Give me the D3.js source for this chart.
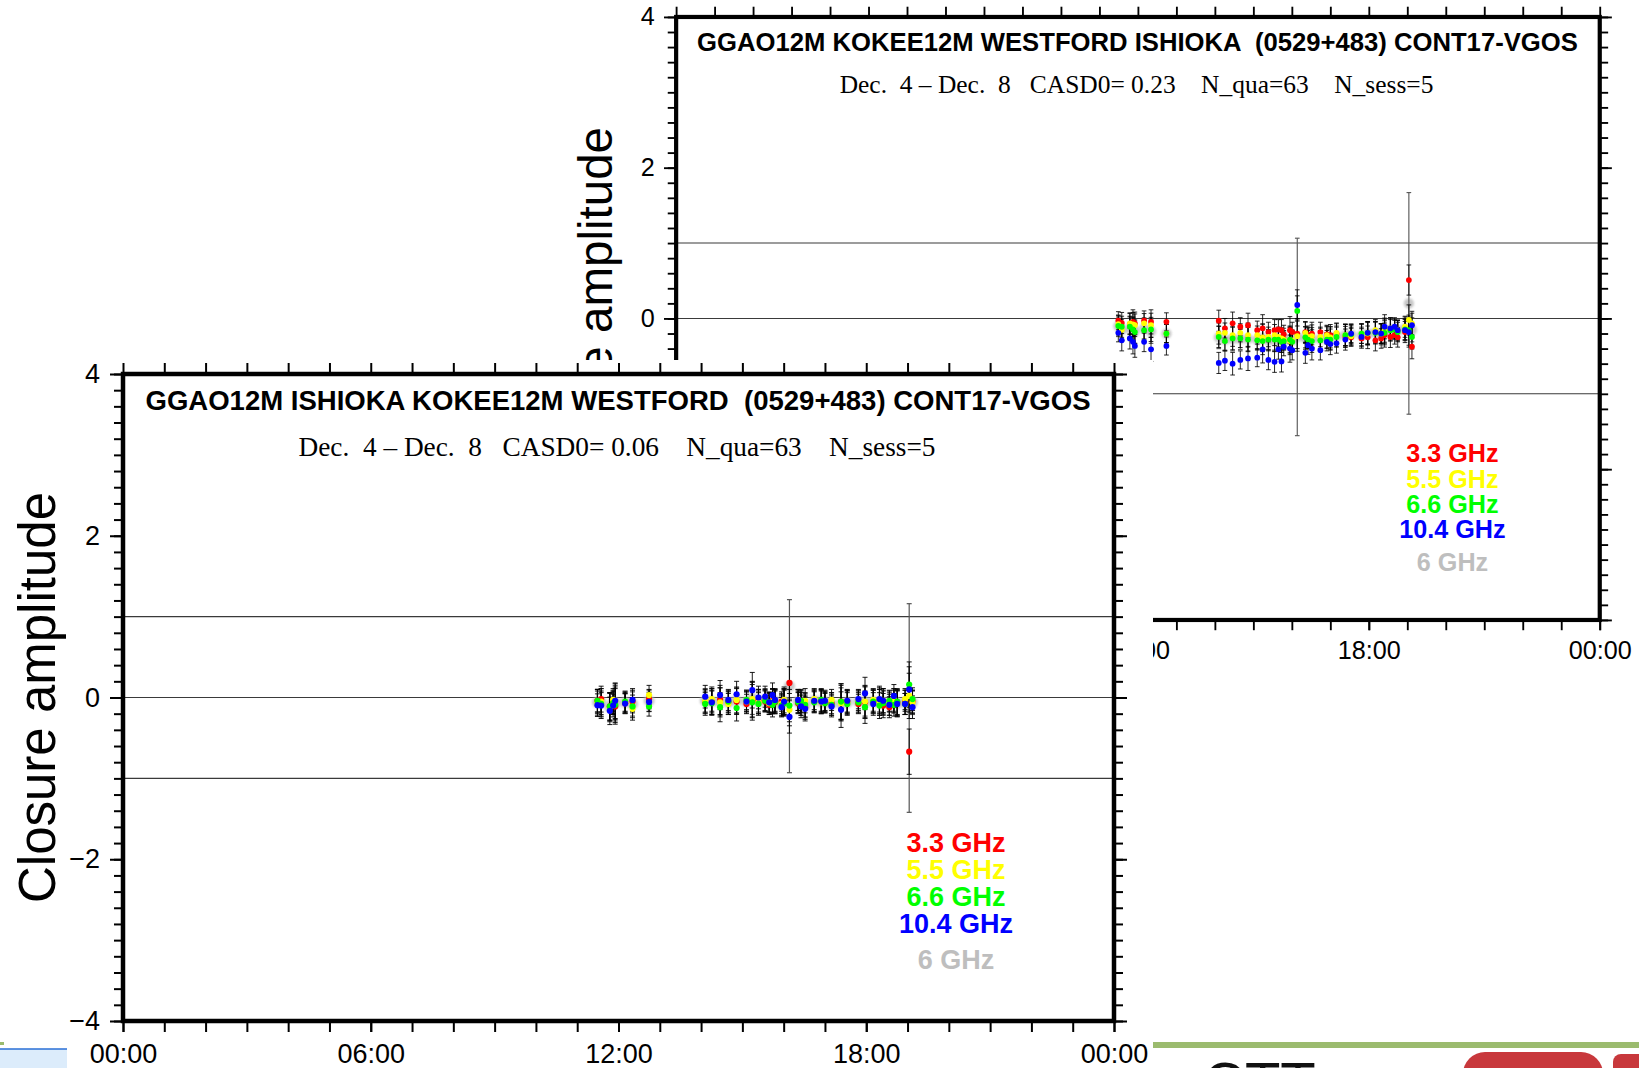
<!DOCTYPE html>
<html><head><meta charset="utf-8">
<script src="https://cdn.jsdelivr.net/npm/d3@7"></script>
<style>body{margin:0;background:#fff}svg{display:block}</style>
</head><body><svg id="c" width="1639" height="1068"></svg>
<script>
// ---------- data ----------
const times = [11.49, 11.58, 11.79, 11.87, 11.92, 12.16, 12.34, 12.74,
 14.10, 14.26, 14.46, 14.66, 14.86, 15.10, 15.24, 15.39, 15.55, 15.65,
 15.73, 15.79, 15.95, 16.01, 16.14, 16.35, 16.42, 16.52, 16.74, 16.91,
 17.00, 17.16, 17.39, 17.54, 17.81, 17.97, 18.17, 18.32, 18.41, 18.56,
 18.67, 18.75, 18.94, 19.04, 19.12];

const bandNames = ["3.3 GHz", "5.5 GHz", "6.6 GHz", "10.4 GHz"];
const bandColors = ["#ff0000", "#ffff00", "#00ff00", "#0000ff"];
const combinedName = "6 GHz";
const combinedColor = "#bebebe";

const xTickLabelHours = [0, 6, 12, 18, 24];
const xTickLabels = ["00:00", "06:00", "12:00", "18:00", "00:00"];
const yTickLabelValues = [-4, -2, 0, 2, 4];
const refLines = [-1, 0, 1];

// front chart: GGAO12M ISHIOKA KOKEE12M WESTFORD
const frontTitle = "GGAO12M ISHIOKA KOKEE12M WESTFORD  (0529+483) CONT17-VGOS";
const frontSub = "Dec.  4 \u2013 Dec.  8   CASD0= 0.06    N_qua=63    N_sess=5";
const frontR = [-0.04, -0.02, -0.11, -0.06, -0.11, -0.07, -0.05, -0.02,
 -0.06, -0.04, -0.03, -0.06, -0.05, -0.08, -0.03, -0.04, -0.05, -0.09,
 -0.04, -0.06, -0.05, -0.06, 0.18, -0.07, -0.05, -0.12, -0.05, -0.04,
 -0.06, -0.07, -0.05, -0.05, -0.08, -0.06, -0.05, -0.04, -0.10, -0.12,
 -0.05, -0.06, -0.04, -0.67, -0.05];
const frontY = [-0.06, -0.05, -0.12, -0.03, -0.05, -0.06, -0.14, 0.03,
 -0.04, -0.02, -0.06, -0.08, -0.03, -0.05, -0.02, -0.06, -0.03, -0.07,
 -0.05, -0.04, -0.08, -0.03, -0.15, -0.03, -0.08, -0.04, -0.02, -0.06,
 -0.05, -0.03, -0.07, -0.06, -0.04, -0.05, -0.03, -0.06, -0.04, -0.05,
 -0.03, -0.07, -0.02, 0.02, -0.06];
const frontG = [-0.04, -0.08, -0.11, -0.07, -0.09, -0.05, -0.11, -0.11,
 -0.08, -0.07, -0.12, -0.05, -0.13, -0.03, -0.06, -0.08, -0.04, -0.06,
 -0.09, -0.05, -0.10, -0.07, -0.10, -0.06, -0.04, -0.09, -0.06, -0.03,
 -0.07, -0.09, -0.05, -0.08, -0.06, -0.12, -0.05, -0.10, -0.07, -0.04,
 -0.09, -0.05, -0.08, 0.16, -0.02];
const frontB = [-0.095, -0.10, -0.165, -0.10, -0.04, -0.075, -0.03, -0.055,
 0.01, -0.06, 0.03, -0.03, 0.04, -0.05, 0.09, 0.00, 0.01, -0.06,
 0.03, -0.03, -0.12, -0.05, -0.24, -0.03, -0.11, -0.14, -0.04, -0.05,
 -0.04, -0.11, -0.15, -0.04, -0.02, 0.05, -0.08, -0.02, -0.04, -0.09,
 0.02, -0.08, -0.08, 0.10, -0.12];
const frontGray = [-0.06, -0.06, -0.12, -0.06, -0.07, -0.06, -0.08, -0.04,
 -0.04, -0.05, -0.05, -0.06, -0.04, -0.05, -0.01, -0.05, -0.03, -0.07,
 -0.04, -0.05, -0.09, -0.05, 0.14, -0.05, -0.07, -0.10, -0.04, -0.05,
 -0.05, -0.08, -0.08, -0.06, -0.05, -0.05, -0.05, -0.06, -0.06, -0.08,
 -0.04, -0.07, -0.06, -0.13, -0.06];
const frontErr = [0.14, 0.16, 0.17, 0.14, 0.22, 0.12, 0.14, 0.12,
 0.14, 0.15, 0.18, 0.13, 0.16, 0.12, 0.22, 0.14, 0.13, 0.12,
 0.15, 0.14, 0.12, 0.16, 0.20, 0.13, 0.14, 0.15, 0.13, 0.14,
 0.12, 0.13, 0.22, 0.14, 0.12, 0.20, 0.14, 0.16, 0.15, 0.13,
 0.14, 0.16, 0.13, 0.28, 0.14];
const frontGrayErr = [0.16, 0.17, 0.18, 0.15, 0.22, 0.14, 0.15, 0.13,
 0.15, 0.16, 0.17, 0.15, 0.16, 0.14, 0.20, 0.15, 0.14, 0.14,
 0.15, 0.15, 0.14, 0.16, 1.07, 0.14, 0.15, 0.15, 0.14, 0.15,
 0.14, 0.14, 0.20, 0.15, 0.14, 0.18, 0.15, 0.16, 0.15, 0.14,
 0.15, 0.16, 0.15, 1.29, 0.15];

// back chart: GGAO12M KOKEE12M WESTFORD ISHIOKA
const backTitle = "GGAO12M KOKEE12M WESTFORD ISHIOKA  (0529+483) CONT17-VGOS";
const backSub = "Dec.  4 \u2013 Dec.  8   CASD0= 0.23    N_qua=63    N_sess=5";
const backR = [-0.03, -0.06, -0.075, -0.045, -0.065, -0.03, -0.045, -0.045,
 -0.03, -0.13, -0.065, -0.11, -0.09, -0.155, -0.13, -0.18, -0.155, -0.145,
 -0.155, -0.21, -0.155, -0.18, -0.20, -0.18, -0.22, -0.20, -0.18, -0.21,
 -0.22, -0.20, -0.245, -0.25, -0.265, -0.25, -0.29, -0.265, -0.22, -0.245,
 -0.22, -0.25, -0.18, 0.51, -0.375];
const backY = [-0.075, -0.15, -0.065, -0.08, -0.09, -0.065, -0.09, -0.20,
 -0.20, -0.19, -0.22, -0.19, -0.22, -0.22, -0.25, -0.245, -0.22, -0.245,
 -0.265, -0.28, -0.30, -0.29, -0.235, -0.19, -0.245, -0.235, -0.245, -0.22,
 -0.25, -0.19, -0.22, -0.235, -0.20, -0.20, -0.155, -0.20, -0.155, -0.13,
 -0.13, -0.155, -0.11, -0.02, -0.065];
const backG = [-0.10, -0.11, -0.11, -0.145, -0.18, -0.155, -0.145, -0.20,
 -0.245, -0.30, -0.265, -0.265, -0.28, -0.29, -0.30, -0.28, -0.28, -0.28,
 -0.31, -0.30, -0.28, -0.31, 0.10, -0.25, -0.28, -0.30, -0.29, -0.28,
 -0.28, -0.245, -0.22, -0.21, -0.20, -0.19, -0.19, -0.20, -0.19, -0.155,
 -0.145, -0.18, -0.145, -0.155, -0.245];
const backB = [-0.19, -0.29, -0.265, -0.31, -0.365, -0.31, -0.41, -0.365,
 -0.59, -0.56, -0.60, -0.55, -0.53, -0.52, -0.41, -0.55, -0.575, -0.41,
 -0.57, -0.375, -0.40, -0.42, 0.18, -0.455, -0.355, -0.40, -0.42, -0.31,
 -0.34, -0.33, -0.28, -0.20, -0.245, -0.19, -0.18, -0.20, -0.11, -0.13,
 -0.11, -0.155, -0.155, -0.18, -0.09];
const backGray = [-0.10, -0.15, -0.13, -0.14, -0.17, -0.13, -0.17, -0.20,
 -0.25, -0.28, -0.27, -0.27, -0.27, -0.28, -0.26, -0.29, -0.29, -0.27,
 -0.30, -0.27, -0.28, -0.29, -0.245, -0.26, -0.26, -0.27, -0.27, -0.25,
 -0.26, -0.24, -0.22, -0.21, -0.22, -0.20, -0.19, -0.21, -0.17, -0.15,
 -0.14, -0.16, -0.13, 0.20, -0.15];
const backErr = [0.12, 0.14, 0.14, 0.16, 0.15, 0.13, 0.16, 0.12,
 0.14, 0.13, 0.15, 0.12, 0.16, 0.12, 0.18, 0.13, 0.14, 0.13,
 0.14, 0.12, 0.18, 0.13, 0.20, 0.14, 0.12, 0.15, 0.13, 0.12,
 0.14, 0.13, 0.14, 0.12, 0.13, 0.15, 0.14, 0.13, 0.16, 0.14,
 0.12, 0.13, 0.14, 0.20, 0.16];
const backGrayErr = [0.14, 0.15, 0.15, 0.16, 0.16, 0.14, 0.16, 0.14,
 0.15, 0.14, 0.16, 0.14, 0.16, 0.14, 0.18, 0.14, 0.15, 0.14,
 0.15, 0.14, 0.17, 0.14, 1.31, 0.15, 0.14, 0.15, 0.14, 0.14,
 0.15, 0.14, 0.15, 0.14, 0.14, 0.15, 0.15, 0.14, 0.16, 0.15,
 0.14, 0.14, 0.15, 1.47, 0.16];

// ---------- drawing ----------
const svg = d3.select("#c");
svg.append("rect").attr("width", 1639).attr("height", 1068).attr("fill", "#fff");
const defs = svg.append("defs");
defs.append("filter").attr("id", "blur").attr("x", "-50%").attr("y", "-50%").attr("width", "200%").attr("height", "200%")
  .append("feGaussianBlur").attr("stdDeviation", 1.3);

const SANS = "'Liberation Sans', Arial, Helvetica, sans-serif";
const SERIF = "'Liberation Serif', 'Times New Roman', serif";

function drawChart(g, c) {
  const L = 123, R = 1114, T = 374, B = 1021;
  const x = d3.scaleLinear().domain([0, 24]).range([L, R]);
  const y = d3.scaleLinear().domain([-4, 4]).range([B, T]);
  const minorY = d3.range(-20, 21).map(k => k / 5);
  const hours = d3.range(0, 25);

  // reference lines
  g.append("g").selectAll("line").data(refLines).join("line")
    .attr("x1", L).attr("x2", R).attr("y1", d => y(d)).attr("y2", d => y(d))
    .attr("stroke", "#3a3a3a").attr("stroke-width", 1.1);

  // axes
  function styleAxis(sel) {
    sel.select(".domain").remove();
    sel.selectAll(".tick line").attr("stroke", "#000").attr("stroke-width", 2);
    sel.selectAll("text").attr("font-family", SANS).attr("font-size", 27).attr("fill", "#000");
  }
  g.append("g").attr("transform", `translate(${L},0)`)
    .call(d3.axisLeft(y).tickValues(minorY).tickSize(9).tickFormat("")).call(styleAxis);
  g.append("g").attr("transform", `translate(${L},0)`)
    .call(d3.axisLeft(y).tickValues(yTickLabelValues).tickSize(13).tickPadding(10).tickFormat(d3.format("d"))).call(styleAxis);
  g.append("g").attr("transform", `translate(${R},0)`)
    .call(d3.axisRight(y).tickValues(minorY).tickSize(9).tickFormat("")).call(styleAxis);
  g.append("g").attr("transform", `translate(${R},0)`)
    .call(d3.axisRight(y).tickValues(yTickLabelValues).tickSize(13).tickFormat("")).call(styleAxis);
  g.append("g").attr("transform", `translate(0,${T})`)
    .call(d3.axisTop(x).tickValues(hours).tickSize(11).tickFormat("")).call(styleAxis);
  g.append("g").attr("transform", `translate(0,${B})`)
    .call(d3.axisBottom(x).tickValues(hours).tickSize(11).tickFormat("")).call(styleAxis);
  g.append("g").attr("transform", `translate(0,${B})`)
    .call(d3.axisBottom(x).tickValues(xTickLabelHours).tickSize(11).tickPadding(12)
      .tickFormat((d, i) => xTickLabels[i])).call(styleAxis);

  // frame
  g.append("rect").attr("x", L).attr("y", T).attr("width", R - L).attr("height", B - T)
    .attr("fill", "none").attr("stroke", "#000").attr("stroke-width", 4.5);

  // y axis title
  g.append("text").attr("transform", `translate(37,${(T + B) / 2}) rotate(-90)`)
    .attr("text-anchor", "middle").attr("dominant-baseline", "central")
    .attr("font-family", SANS).attr("font-size", 51).text("Closure amplitude");

  // titles
  g.append("text").attr("x", 618).attr("y", 410).attr("text-anchor", "middle")
    .attr("font-family", SANS).attr("font-weight", "bold").attr("font-size", 27)
    .attr("textLength", 945).attr("lengthAdjust", "spacingAndGlyphs")
    .style("white-space", "pre").text(c.title);
  g.append("text").attr("x", 617).attr("y", 456).attr("text-anchor", "middle")
    .attr("font-family", SERIF).attr("font-size", 27)
    .attr("textLength", 637).attr("lengthAdjust", "spacingAndGlyphs")
    .style("white-space", "pre").text(c.sub);

  // data
  const rows = times.map((t, i) => ({ t, i }));
  const series = [c.r, c.y, c.g, c.b];

  // gray combined halos
  g.append("g").selectAll("circle").data(rows).join("circle")
    .attr("cx", d => x(d.t)).attr("cy", d => y(c.gray[d.i])).attr("r", 5.5)
    .attr("fill", combinedColor).attr("opacity", 0.85).attr("filter", "url(#blur)");

  // gray error bars
  const ge = g.append("g").attr("stroke", "#555").attr("stroke-width", 1.2);
  rows.forEach(d => {
    const v = c.gray[d.i], e = c.grayErr[d.i], cx = x(d.t);
    ge.append("line").attr("x1", cx).attr("x2", cx).attr("y1", y(v - e)).attr("y2", y(v + e));
    [v - e, v + e].forEach(w => ge.append("line").attr("x1", cx - 2.5).attr("x2", cx + 2.5).attr("y1", y(w)).attr("y2", y(w)));
  });

  // colored error bars (black)
  const ce = g.append("g").attr("stroke", "#000").attr("stroke-width", 0.9);
  series.forEach(s => {
    rows.forEach(d => {
      const v = s[d.i], e = c.err[d.i], cx = x(d.t);
      ce.append("line").attr("x1", cx).attr("x2", cx).attr("y1", y(v - e)).attr("y2", y(v + e));
      [v - e, v + e].forEach(w => ce.append("line").attr("x1", cx - 2.5).attr("x2", cx + 2.5).attr("y1", y(w)).attr("y2", y(w)));
    });
  });

  // dots
  series.forEach((s, k) => {
    g.append("g").selectAll("circle").data(rows).join("circle")
      .attr("cx", d => x(d.t)).attr("cy", d => y(s[d.i])).attr("r", 3.1)
      .attr("fill", bandColors[k]);
  });

  // legend
  const lg = g.append("g").attr("font-family", SANS).attr("font-weight", "bold").attr("font-size", 27)
    .attr("text-anchor", "middle");
  const baselines = [852, 879, 906, 933];
  bandNames.forEach((n, k) => lg.append("text").attr("x", 956).attr("y", baselines[k]).attr("fill", bandColors[k]).text(n));
  lg.append("text").attr("x", 956).attr("y", 969).attr("fill", combinedColor).text(combinedName);
}

// back chart (scaled)
const back = svg.append("g").attr("transform", "translate(561.5,-331.6) scale(0.932)");
drawChart(back, { title: backTitle, sub: backSub, r: backR, y: backY, g: backG, b: backB,
  gray: backGray, err: backErr, grayErr: backGrayErr });

// decorations of the underlying page
svg.append("rect").attr("x", 1153).attr("y", 1042).attr("width", 486).attr("height", 6).attr("fill", "#9bbb6e");
svg.append("rect").attr("x", 1463).attr("y", 1052).attr("width", 140).attr("height", 60).attr("rx", 22).attr("fill", "#c8383c");
svg.append("rect").attr("x", 1613).attr("y", 1054).attr("width", 60).attr("height", 60).attr("rx", 8).attr("fill", "#c8383c");
svg.append("text").attr("x", 1203).attr("y", 1103).attr("font-family", SANS).attr("font-size", 58)
  .attr("fill", "#111").text("CTT");

// front chart overlay
const front = svg.append("g");
front.append("rect").attr("x", 0).attr("y", 360).attr("width", 1153).attr("height", 708).attr("fill", "#fff");
drawChart(front, { title: frontTitle, sub: frontSub, r: frontR, y: frontY, g: frontG, b: frontB,
  gray: frontGray, err: frontErr, grayErr: frontGrayErr });

// bottom-left fragment
svg.append("rect").attr("x", 0).attr("y", 1049).attr("width", 67).attr("height", 19).attr("fill", "#dcecfb");
svg.append("line").attr("x1", 0).attr("x2", 67).attr("y1", 1049).attr("y2", 1049).attr("stroke", "#2a6fd6").attr("stroke-width", 1.5);
svg.append("rect").attr("x", 0).attr("y", 1042).attr("width", 4).attr("height", 3).attr("fill", "#9bbb6e");
</script></body></html>
